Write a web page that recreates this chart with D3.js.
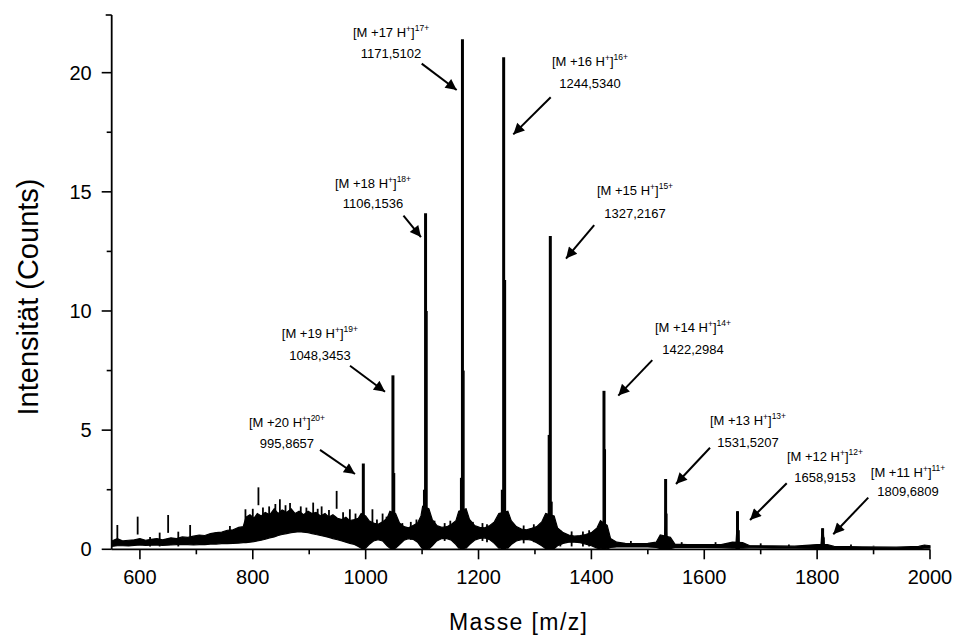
<!DOCTYPE html>
<html>
<head>
<meta charset="utf-8">
<script src="https://cdn.jsdelivr.net/npm/d3@7"></script>
<style>
  body { margin: 0; background: #fff; }
  svg { display: block; }
  text { font-family: "Liberation Sans", Arial, sans-serif; fill: #000; }
</style>
</head>
<body>
<svg id="chart" width="958" height="637"></svg>
<script>
// ---- axis ticks ----
const xTickValues = [600, 800, 1000, 1200, 1400, 1600, 1800, 2000];
const yTickValues = [0, 5, 10, 15, 20];

// ---- charge-state ions [M + nH]^n+ ----
const ionCharge    = [20, 19, 18, 17, 16, 15, 14, 13, 12, 11];
const ionMz        = [995.8657, 1048.3453, 1106.1536, 1171.5102, 1244.5340, 1327.2167, 1422.2984, 1531.5207, 1658.9153, 1809.6809];
const ionIntensity = [3.6, 7.3, 14.1, 21.4, 20.65, 13.15, 6.65, 2.95, 1.6, 0.88];
const ionMassText  = ["995,8657", "1048,3453", "1106,1536", "1171,5102", "1244,5340", "1327,2167", "1422,2984", "1531,5207", "1658,9153", "1809,6809"];

// ---- satellite lines next to the main ions ----
const satelliteMz        = [1045.5, 1050.5, 1103.5, 1108.0, 1169.0, 1173.5, 1241.5, 1247.0, 1324.5, 1329.5, 1424.0, 1533.0, 1661.0, 1811.5];
const satelliteIntensity = [1.4,    3.2,    2.5,    10.0,   3.0,    7.5,    2.5,    11.3,   4.8,    2.0,    4.2,    1.5,    0.8,    0.5];

// ---- dense noise band: lower and upper envelope ----
const bandMz   = [550, 560, 570, 580, 590, 600, 610, 620, 630, 640, 655, 665, 675, 685, 695, 705, 715, 725, 735, 745, 755, 765, 775, 783, 788, 795, 802, 808, 815, 822, 830, 838, 845, 852, 860, 868, 875, 882, 890, 898, 905, 912, 920, 928, 935, 942, 950, 958, 965, 972, 980, 987, 992, 1000, 1006, 1014, 1022, 1030, 1038, 1043, 1053, 1060, 1068, 1076, 1084, 1092, 1098, 1101, 1112, 1118, 1126, 1135, 1144, 1152, 1160, 1165, 1178, 1184, 1193, 1202, 1211, 1220, 1228, 1236, 1252, 1258, 1267, 1276, 1285, 1294, 1303, 1312, 1319, 1334, 1340, 1350, 1360, 1370, 1380, 1390, 1400, 1410, 1416, 1428, 1434, 1445, 1460, 1480, 1500, 1515, 1522, 1540, 1548, 1570, 1600, 1630, 1650, 1668, 1680, 1720, 1760, 1800, 1818, 1830, 1880, 1940, 1980, 1990, 2000];
const bandLow  = [0.12, 0.15, 0.15, 0.14, 0.16, 0.18, 0.16, 0.17, 0.18, 0.16, 0.18, 0.2, 0.2, 0.2, 0.18, 0.2, 0.2, 0.22, 0.22, 0.24, 0.24, 0.25, 0.26, 0.28, 0.28, 0.3, 0.32, 0.35, 0.38, 0.42, 0.48, 0.52, 0.58, 0.62, 0.66, 0.7, 0.72, 0.74, 0.72, 0.7, 0.66, 0.62, 0.58, 0.54, 0.5, 0.45, 0.4, 0.35, 0.3, 0.25, 0.2, 0.12, 0.05, 0.05, 0.2, 0.35, 0.4, 0.35, 0.15, 0.05, 0.05, 0.2, 0.38, 0.45, 0.42, 0.3, 0.1, 0.02, 0.02, 0.15, 0.35, 0.45, 0.45, 0.38, 0.2, 0.05, 0.05, 0.2, 0.38, 0.46, 0.48, 0.4, 0.25, 0.05, 0.05, 0.2, 0.35, 0.4, 0.42, 0.38, 0.28, 0.15, 0.03, 0.03, 0.15, 0.25, 0.3, 0.3, 0.28, 0.22, 0.15, 0.05, 0.02, 0.02, 0.08, 0.1, 0.1, 0.1, 0.1, 0.08, 0.03, 0.03, 0.08, 0.08, 0.08, 0.07, 0.05, 0.05, 0.06, 0.05, 0.05, 0.04, 0.04, 0.05, 0.04, 0.03, 0.03, 0.05, 0.05];
const bandHigh = [0.35, 0.45, 0.35, 0.38, 0.4, 0.45, 0.38, 0.42, 0.45, 0.4, 0.48, 0.45, 0.52, 0.5, 0.55, 0.6, 0.58, 0.66, 0.7, 0.72, 0.8, 0.82, 0.92, 0.95, 1.35, 1.45, 1.3, 1.5, 1.4, 1.55, 1.45, 1.7, 1.5, 1.65, 1.55, 1.7, 1.5, 1.6, 1.45, 1.6, 1.5, 1.55, 1.4, 1.5, 1.35, 1.45, 1.3, 1.25, 1.35, 1.2, 1.25, 1.3, 1.5, 1.4, 1.2, 1.1, 1.05, 1.15, 1.3, 1.6, 1.5, 1.1, 0.95, 0.9, 1.0, 1.1, 1.4, 1.8, 1.7, 1.25, 1.0, 0.92, 0.95, 1.05, 1.2, 1.6, 1.7, 1.25, 1.0, 0.92, 0.9, 1.0, 1.15, 1.5, 1.6, 1.2, 0.95, 0.85, 0.82, 0.88, 0.95, 1.15, 1.5, 1.4, 0.9, 0.7, 0.6, 0.55, 0.58, 0.62, 0.7, 0.9, 1.2, 1.0, 0.45, 0.3, 0.25, 0.24, 0.25, 0.3, 0.6, 0.5, 0.22, 0.2, 0.2, 0.2, 0.3, 0.28, 0.16, 0.14, 0.13, 0.2, 0.2, 0.12, 0.1, 0.09, 0.12, 0.18, 0.15];

// ---- isolated narrow spikes rising out of the band ----
const spikeMz        = [560, 596, 618, 635, 650, 668, 689, 759.5, 787, 800, 810, 818, 829, 840, 848, 858, 866, 885, 895, 907, 915, 922, 935, 948.6, 960, 972, 982, 1012, 1020, 1030, 1037, 1056, 1065, 1080, 1090, 1122, 1140, 1150, 1190, 1207, 1215, 1262, 1280, 1298, 1345, 1365, 1385, 1396, 1470, 1560, 1620, 1700, 1750, 1860, 1900];
const spikeIntensity = [1.02, 1.37, 0.52, 0.7, 1.44, 0.74, 1.02, 0.98, 1.68, 1.7, 2.6, 1.75, 1.8, 1.9, 2.1, 1.85, 1.94, 1.8, 1.75, 1.96, 1.7, 1.8, 1.65, 2.45, 1.55, 1.68, 1.5, 1.68, 1.25, 1.5, 1.37, 1.2, 1.1, 1.15, 1.25, 1.2, 1.1, 1.2, 1.15, 1.1, 1.05, 1.05, 1.0, 1.05, 0.8, 0.75, 0.75, 0.8, 0.35, 0.3, 0.3, 0.25, 0.2, 0.2, 0.15];

// ---- callout placement (m/z, intensity) for label centre, arrow tail and arrow tip ----
const callouts = [
  { label: [860.6, 5.14],  num: [860.6, 4.24],  tail: [919.1, 4.17],  tip: [981.1, 3.16] },
  { label: [918.9, 8.85],  num: [918.9, 7.94],  tail: [972.3, 7.70],  tip: [1034.3, 6.61] },
  { label: [1013, 15.15],  num: [1013, 14.32],  tail: [1067, 14.0],   tip: [1098, 13.1] },
  { label: [1045, 21.49],  num: [1045, 20.63],  tail: [1099.3, 20.38], tip: [1161.3, 19.27] },
  { label: [1397.5, 20.29], num: [1397.5, 19.37], tail: [1327.9, 18.97], tip: [1261.6, 17.41] },
  { label: [1477.3, 14.87], num: [1477.3, 13.9], tail: [1405, 13.6],  tip: [1355, 12.2] },
  { label: [1580, 9.13],   num: [1580, 8.2],    tail: [1507.9, 7.94], tip: [1447.7, 6.45] },
  { label: [1677.5, 5.22], num: [1677.5, 4.31], tail: [1610.2, 4.26], tip: [1549.9, 2.74] },
  { label: [1813.9, 3.71], num: [1813.9, 2.84], tail: [1746.1, 2.77], tip: [1681.1, 1.23] },
  { label: [1961.1, 3.05], num: [1961.1, 2.24], tail: [1890.6, 2.17], tip: [1828.6, 0.63] }
];

// ---- layout ----
const plot = { left: 111.7, right: 930, top: 15, bottom: 549.3 };

const svg = d3.select("#chart");
const x = d3.scaleLinear().domain([550, 2000]).range([plot.left, plot.right]);
const y = d3.scaleLinear().domain([0, 22.42]).range([plot.bottom, plot.top]);

const g = svg.append("g");

// noise band
const band = bandMz.map((m, i) => ({ m, lo: bandLow[i], hi: bandHigh[i] }));
g.append("path")
  .datum(band)
  .attr("fill", "#000")
  .attr("stroke", "#000")
  .attr("stroke-width", 1.2)
  .attr("stroke-linejoin", "miter")
  .attr("d", d3.area().x(d => x(d.m)).y0(d => y(d.lo)).y1(d => y(d.hi)));

// spikes: only the part standing above the band is drawn
g.selectAll("line.spike")
  .data(spikeMz.map((m, i) => ({ m, v: spikeIntensity[i] })))
  .join("line")
  .attr("class", "spike")
  .attr("x1", d => x(d.m)).attr("x2", d => x(d.m))
  .attr("y1", d => y(Math.max(0.12, d.v - 0.75))).attr("y2", d => y(d.v))
  .attr("stroke", "#000").attr("stroke-width", 1.8);

// satellite lines
g.selectAll("line.sat")
  .data(satelliteMz.map((m, i) => ({ m, v: satelliteIntensity[i] })))
  .join("line")
  .attr("class", "sat")
  .attr("x1", d => x(d.m)).attr("x2", d => x(d.m))
  .attr("y1", y(0)).attr("y2", d => y(d.v))
  .attr("stroke", "#000").attr("stroke-width", 2.2);

// main ion peaks: narrow foot plus a sharp line
const ions = ionMz.map((m, i) => ({ m, v: ionIntensity[i], z: ionCharge[i], t: ionMassText[i], c: callouts[i] }));
const foot = d3.area().x(d => x(d[0])).y0(y(0.02)).y1(d => y(d[1]));
g.selectAll("path.foot")
  .data(ions)
  .join("path")
  .attr("class", "foot")
  .attr("fill", "#000")
  .attr("d", d => foot([[d.m - 4, 0.15], [d.m - 1.8, Math.min(d.v, 1.0)], [d.m - 0.9, Math.min(d.v, 2.4)], [d.m + 0.9, Math.min(d.v, 2.4)], [d.m + 1.8, Math.min(d.v, 1.0)], [d.m + 4, 0.15]]));
g.selectAll("line.ion")
  .data(ions)
  .join("line")
  .attr("class", "ion")
  .attr("x1", d => x(d.m)).attr("x2", d => x(d.m))
  .attr("y1", y(0)).attr("y2", d => y(d.v))
  .attr("stroke", "#000").attr("stroke-width", 3);

// ---- axes ----
const axisColor = "#000";
const xAxis = svg.append("g").attr("transform", `translate(0,${plot.bottom})`);
xAxis.append("line").attr("x1", plot.left).attr("x2", plot.right).attr("stroke", axisColor).attr("stroke-width", 1.8);
const xMinor = d3.range(600, 2001, 100);
xAxis.selectAll("line.t").data(xMinor).join("line").attr("class", "t")
  .attr("x1", d => x(d)).attr("x2", d => x(d))
  .attr("y1", 0).attr("y2", d => xTickValues.includes(d) ? 10 : 5)
  .attr("stroke", axisColor).attr("stroke-width", 1.6);
xAxis.selectAll("text").data(xTickValues).join("text")
  .attr("x", d => x(d)).attr("y", 35)
  .attr("text-anchor", "middle").attr("font-size", 20)
  .text(d => d);

const yAxis = svg.append("g").attr("transform", `translate(${plot.left},0)`);
yAxis.append("line").attr("y1", plot.top).attr("y2", plot.bottom).attr("stroke", axisColor).attr("stroke-width", 1.8);
yAxis.append("line").attr("x1", -6).attr("x2", 0).attr("y1", plot.top).attr("y2", plot.top).attr("stroke", axisColor).attr("stroke-width", 1.6);
const yMinor = d3.range(0, 22.01, 2.5);
yAxis.selectAll("line.t").data(yMinor).join("line").attr("class", "t")
  .attr("x1", d => yTickValues.includes(d) ? -10 : -5).attr("x2", 0)
  .attr("y1", d => y(d)).attr("y2", d => y(d))
  .attr("stroke", axisColor).attr("stroke-width", 1.6);
yAxis.selectAll("text").data(yTickValues).join("text")
  .attr("x", -20).attr("y", d => y(d) + 7)
  .attr("text-anchor", "end").attr("font-size", 20)
  .text(d => d);

// axis titles
svg.append("text").attr("x", 518).attr("y", 630).attr("text-anchor", "middle")
  .attr("font-size", 23).attr("textLength", 138).attr("lengthAdjust", "spacing")
  .text("Masse [m/z]");
svg.append("text").attr("transform", `translate(38,297) rotate(-90)`)
  .attr("text-anchor", "middle").attr("font-size", 29).text("Intensität (Counts)");

// ---- callouts ----
svg.append("defs").append("marker")
  .attr("id", "head").attr("viewBox", "0 0 10 10").attr("refX", 10).attr("refY", 5)
  .attr("markerWidth", 8).attr("markerHeight", 5.5).attr("markerUnits", "strokeWidth")
  .attr("orient", "auto")
  .append("path").attr("d", "M0,0 L10,5 L0,10 Z").attr("fill", "#000");

const co = svg.append("g");
ions.forEach(d => {
  const c = d.c;
  const lab = co.append("text").attr("x", x(c.label[0])).attr("y", y(c.label[1]))
    .attr("text-anchor", "middle").attr("font-size", 13);
  lab.append("tspan").text(`[M +${d.z} H`);
  lab.append("tspan").attr("font-size", 8.5).attr("dy", -5).text("+");
  lab.append("tspan").attr("dy", 5).text("]");
  lab.append("tspan").attr("font-size", 8.5).attr("dy", -6).text(`${d.z}+`);
  co.append("text").attr("x", x(c.num[0])).attr("y", y(c.num[1]))
    .attr("text-anchor", "middle").attr("font-size", 13).text(d.t);
  co.append("line")
    .attr("x1", x(c.tail[0])).attr("y1", y(c.tail[1]))
    .attr("x2", x(c.tip[0])).attr("y2", y(c.tip[1]))
    .attr("stroke", "#000").attr("stroke-width", 2)
    .attr("marker-end", "url(#head)");
});
</script>
</body>
</html>
